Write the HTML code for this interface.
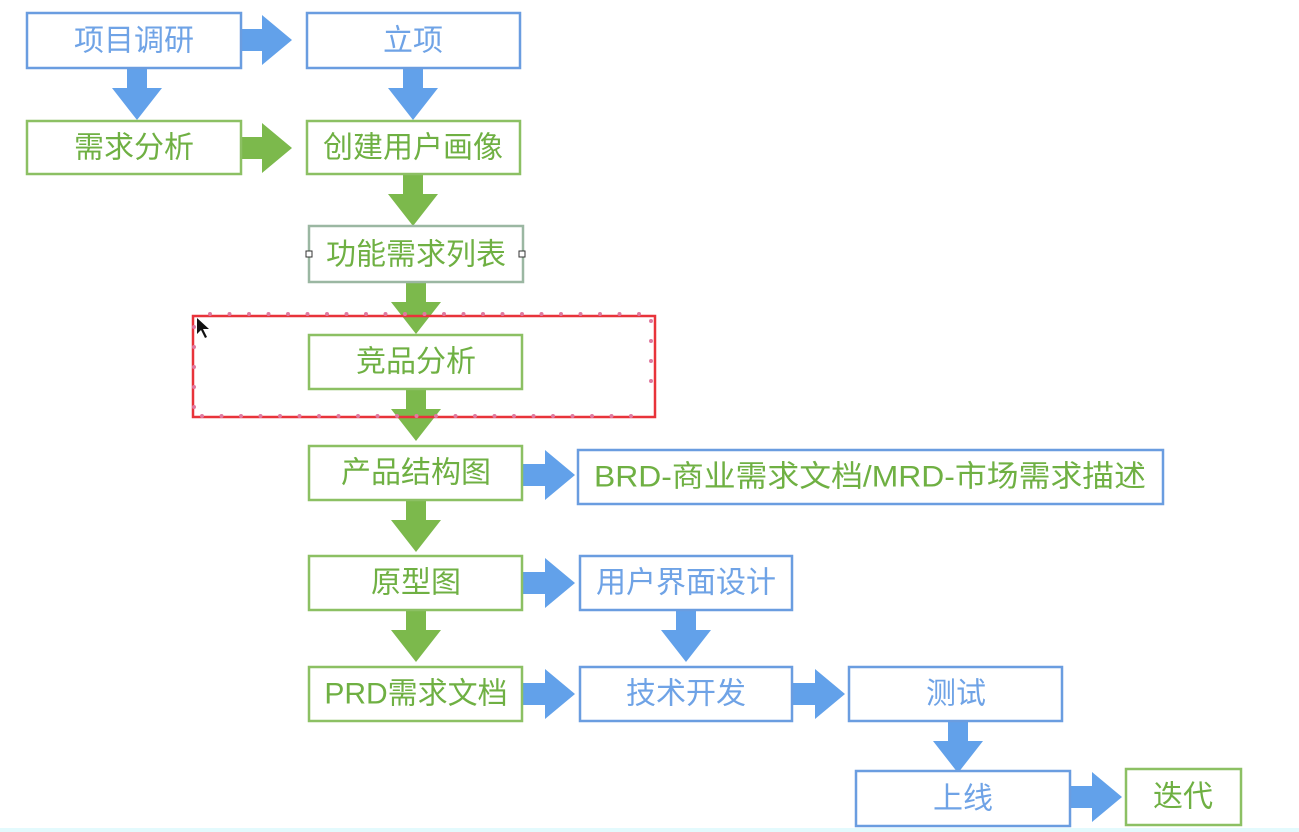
<!DOCTYPE html>
<html><head><meta charset="utf-8"><style>
html,body{margin:0;padding:0;background:#fff;width:1299px;height:832px;overflow:hidden}
svg{display:block}
text{font-family:"Liberation Sans","Noto Sans CJK SC",sans-serif;font-size:30px;text-anchor:middle;dominant-baseline:central}
.b{fill:#fff;stroke:#6a9de0;stroke-width:2.5}
.g{fill:#fff;stroke:#8cc063;stroke-width:2.5}
.tb{fill:#6fa3e6}
.tg{fill:#6fb043}
.ab{fill:#62a1ea}
.ag{fill:#7cb94c}
</style></head><body>
<svg width="1299" height="832" viewBox="0 0 1299 832">
<defs>
<path id="ar" d="M0,-11 H24 V-25 L54,0 L24,25 V11 H0 Z"/>
<path id="ad" d="M-10,0 V20 H-25 L0,52 L25,20 H10 V0 Z"/>
</defs>
<!-- arrows -->
<use href="#ar" class="ab" x="238" y="40"/>
<use href="#ar" class="ag" x="238" y="148"/>
<use href="#ad" class="ab" x="137" y="68"/>
<use href="#ad" class="ab" x="413" y="68"/>
<use href="#ad" class="ag" x="413" y="174"/>
<use href="#ad" class="ag" x="416" y="282"/>
<use href="#ad" class="ag" x="416" y="389"/>
<use href="#ad" class="ag" x="416" y="500"/>
<use href="#ad" class="ag" x="416" y="610"/>
<use href="#ar" class="ab" x="521" y="475"/>
<use href="#ar" class="ab" x="521" y="583"/>
<use href="#ar" class="ab" x="521" y="694"/>
<use href="#ar" class="ab" x="791" y="694"/>
<use href="#ar" class="ab" x="1068" y="797"/>
<use href="#ad" class="ab" x="686" y="610"/>
<use href="#ad" class="ab" x="958" y="721"/>
<!-- boxes -->
<rect class="b" x="27" y="13" width="214" height="55"/>
<text class="tb" x="134" y="41">项目调研</text>
<rect class="b" x="307" y="13" width="213" height="55"/>
<text class="tb" x="413" y="41">立项</text>
<rect class="g" x="27" y="121" width="214" height="53"/>
<text class="tg" x="134" y="148">需求分析</text>
<rect class="g" x="307" y="121" width="213" height="53"/>
<text class="tg" x="413" y="148">创建用户画像</text>
<rect x="309" y="226" width="214" height="56" fill="#fff" stroke="#9bb7a2" stroke-width="2.5"/>
<text class="tg" x="416" y="255">功能需求列表</text>
<rect x="306" y="251" width="6" height="6" fill="#fff" stroke="#333" stroke-width="1"/>
<rect x="519" y="251" width="6" height="6" fill="#fff" stroke="#333" stroke-width="1"/>
<rect class="g" x="309" y="335" width="213" height="54"/>
<text class="tg" x="416" y="362">竞品分析</text>
<rect class="g" x="309" y="446" width="213" height="54"/>
<text class="tg" x="416" y="473">产品结构图</text>
<rect class="b" x="578" y="450" width="585" height="54" stroke="#8fb7ea"/>
<text class="tg" x="870" y="477" textLength="552" lengthAdjust="spacingAndGlyphs">BRD-商业需求文档/MRD-市场需求描述</text>
<rect class="g" x="309" y="556" width="213" height="54"/>
<text class="tg" x="416" y="583">原型图</text>
<rect class="b" x="580" y="556" width="212" height="54"/>
<text class="tb" x="686" y="583">用户界面设计</text>
<rect class="g" x="309" y="667" width="213" height="54"/>
<text class="tg" x="416" y="694">PRD需求文档</text>
<rect class="b" x="580" y="667" width="212" height="54"/>
<text class="tb" x="686" y="694">技术开发</text>
<rect class="b" x="849" y="667" width="213" height="54"/>
<text class="tb" x="956" y="694">测试</text>
<rect class="b" x="856" y="771" width="214" height="55"/>
<text class="tb" x="963" y="799">上线</text>
<rect class="g" x="1126" y="769" width="115" height="56"/>
<text class="tg" x="1183" y="797">迭代</text>
<!-- selection -->
<rect x="193" y="316" width="462" height="101" fill="none" stroke="#e8333a" stroke-width="2.5"/>
<line x1="210" y1="314" x2="645" y2="314" stroke="#e07aa0" stroke-width="4" stroke-linecap="round" stroke-dasharray="0 19.5"/>
<line x1="202" y1="416" x2="648" y2="416" stroke="#e07aa0" stroke-width="4" stroke-linecap="round" stroke-dasharray="0 19.5"/>
<line x1="194" y1="327" x2="194" y2="410" stroke="#e07aa0" stroke-width="4" stroke-linecap="round" stroke-dasharray="0 20"/>
<line x1="651" y1="321" x2="651" y2="401" stroke="#e07aa0" stroke-width="4" stroke-linecap="round" stroke-dasharray="0 20"/>
<path d="M197,318 L197,334 L201,330 L205,338 L207,337 L203,329 L209,329 Z" fill="#111"/>
<rect x="0" y="828" width="1299" height="4" fill="#e3fafd"/>
</svg>
</body></html>
